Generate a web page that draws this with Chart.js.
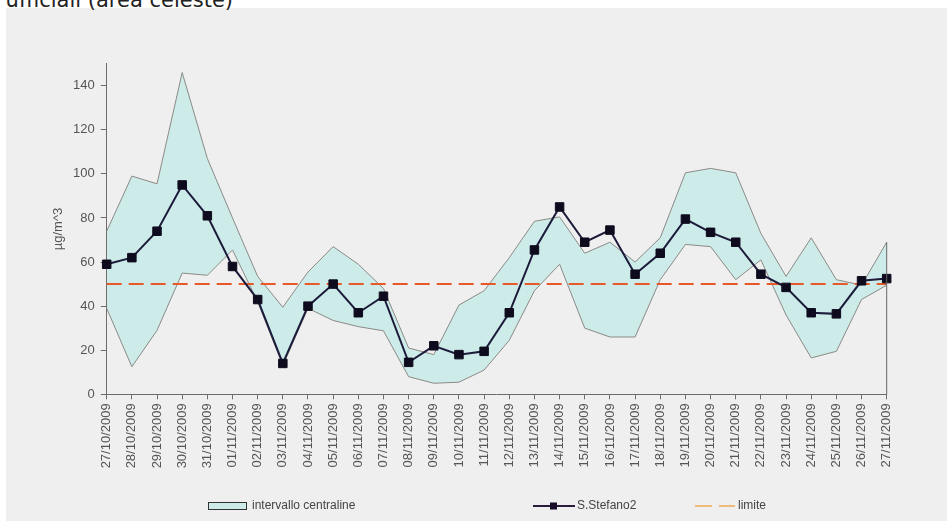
<!DOCTYPE html>
<html>
<head>
<meta charset="utf-8">
<script src="https://cdn.jsdelivr.net/npm/chart.js@4/dist/chart.umd.min.js"></script>
<style>
  html, body { margin:0; padding:0; background:#ffffff; width:947px; height:521px; overflow:hidden; }
  #panel { position:absolute; left:6px; top:8px; width:941px; height:513px; background:#efefef; }
  #wrap { position:absolute; left:0; top:0; width:947px; height:521px; }
  #topText { position:absolute; left:-300px; width:533px; top:-10px; text-align:right; font-family:"DejaVu Sans", sans-serif; font-size:21px; line-height:20px; color:#222; white-space:nowrap; }
</style>
</head>
<body>
<div id="panel"></div>
<div id="topText">ufficiali (area celeste)</div>
<div id="wrap"><canvas id="c" width="947" height="521"></canvas></div>
<script>
const categories = ["27/10/2009","28/10/2009","29/10/2009","30/10/2009","31/10/2009","01/11/2009","02/11/2009","03/11/2009","04/11/2009","05/11/2009","06/11/2009","07/11/2009","08/11/2009","09/11/2009","10/11/2009","11/11/2009","12/11/2009","13/11/2009","14/11/2009","15/11/2009","16/11/2009","17/11/2009","18/11/2009","19/11/2009","20/11/2009","21/11/2009","22/11/2009","23/11/2009","24/11/2009","25/11/2009","26/11/2009","27/11/2009"];
const stefano2 = [59, 62, 74, 95, 81, 58, 43, 14, 40, 50, 37, 44.5, 14.5, 22, 18, 19.5, 37, 65.5, 85, 69, 74.5, 54.5, 64, 79.5, 73.5, 69, 54.5, 48.5, 37, 36.5, 51.5, 52.5];
const intervalUpper = [74, 99, 95.5, 146, 107, 80, 53.5, 39.5, 55.5, 67, 59, 48, 21, 18, 40.5, 47, 62, 78.5, 80.5, 64, 69, 60, 71, 100.5, 102.5, 100.5, 73, 53.5, 71, 52, 49.5, 69];
const intervalLower = [39, 12.5, 29, 55, 54, 65.5, 42, 13, 39, 33.5, 30.7, 28.8, 8, 5, 5.5, 11, 24.5, 47, 59, 30, 26, 26, 52, 68, 67, 52, 61, 36, 16.5, 19.5, 43, 49.5];
const limitValue = [50, 50, 50, 50, 50, 50, 50, 50, 50, 50, 50, 50, 50, 50, 50, 50, 50, 50, 50, 50, 50, 50, 50, 50, 50, 50, 50, 50, 50, 50, 50, 50];
const yTicks = [0, 20, 40, 60, 80, 100, 120, 140];
const legendLabels = ["intervallo centraline", "S.Stefano2", "limite"];
const yTitle = "µg/m^3";

const bandFill = "#cdebe8";
const bandBorder = "#8a8a86";
const lineColor = "#1d1b3c";
const limitColor = "#e8592a";
const axisColor = "#6f6b68";
const textColor = "#555";

const closingLine = {
  id: "closingLine",
  afterDatasetsDraw(chart) {
    const xs = chart.scales.x, ys = chart.scales.y, ctx = chart.ctx;
    const i = categories.length - 1;
    ctx.save();
    ctx.strokeStyle = "#666";
    ctx.lineWidth = 1;
    ctx.beginPath();
    ctx.moveTo(xs.getPixelForValue(i), ys.getPixelForValue(intervalUpper[i]));
    ctx.lineTo(xs.getPixelForValue(i), ys.getPixelForValue(0));
    ctx.stroke();
    ctx.restore();
  }
};

const customLegend = {
  id: "customLegend",
  afterDraw(chart) {
    const ctx = chart.ctx;
    const y = 506;
    ctx.save();
    ctx.font = "12px 'Liberation Sans', Arial, sans-serif";
    ctx.textBaseline = "middle";
    ctx.fillStyle = bandFill;
    ctx.fillRect(208.5, 502.5, 38, 7);
    ctx.strokeStyle = "#333";
    ctx.lineWidth = 1;
    ctx.strokeRect(208.5, 502.5, 38, 7);
    ctx.fillStyle = "#444";
    ctx.fillText(legendLabels[0], 252, y);
    ctx.strokeStyle = "#2a1d3c";
    ctx.lineWidth = 2;
    ctx.beginPath(); ctx.moveTo(533, y); ctx.lineTo(575, y); ctx.stroke();
    ctx.fillStyle = "#1a0d2a";
    ctx.fillRect(550, y - 3.5, 7, 7);
    ctx.fillStyle = "#444";
    ctx.fillText(legendLabels[1], 577, y);
    ctx.strokeStyle = "#f0aa55";
    ctx.lineWidth = 1.5;
    ctx.beginPath(); ctx.moveTo(695, y); ctx.lineTo(712, y); ctx.moveTo(719, y); ctx.lineTo(735, y); ctx.stroke();
    ctx.fillStyle = "#444";
    ctx.fillText(legendLabels[2], 738, y);
    ctx.restore();
  }
};

new Chart(document.getElementById("c"), {
  type: "line",
  data: {
    labels: categories,
    datasets: [
      {
        label: legendLabels[1], data: stefano2, borderColor: lineColor, borderWidth: 2,
        pointStyle: "rect", pointRadius: 6, pointBackgroundColor: "#0e0b1e", pointBorderColor: "#0e0b1e",
        pointBorderWidth: 1, fill: false, tension: 0
      },
      {
        label: legendLabels[2], data: limitValue, borderColor: limitColor, borderWidth: 2,
        borderDash: [15, 7], pointRadius: 0, fill: false, tension: 0
      },
      {
        label: "lower", data: intervalLower, borderColor: bandBorder, borderWidth: 1,
        pointRadius: 0, fill: false, tension: 0
      },
      {
        label: legendLabels[0], data: intervalUpper, borderColor: bandBorder, borderWidth: 1,
        backgroundColor: bandFill, pointRadius: 0, fill: "-1", tension: 0
      }
    ]
  },
  options: {
    responsive: false,
    animation: false,
    events: [],
    layout: { padding: { left: 0, right: 60.3, top: 63.7, bottom: 0 } },
    plugins: { legend: { display: false }, tooltip: { enabled: false }, title: { display: false } },
    scales: {
      x: {
        offset: false,
        grid: { display: true, drawOnChartArea: false, drawTicks: true, tickLength: 5, color: axisColor },
        border: { display: true, color: axisColor, width: 1 },
        ticks: { autoSkip: false, maxRotation: 90, minRotation: 90, padding: 4, color: textColor,
                 font: { family: "'Liberation Sans', Arial, sans-serif", size: 13 } },
        afterFit(scale) { scale.height = 521 - 394.3; }
      },
      y: {
        min: 0, max: 150,
        afterBuildTicks(scale) { scale.ticks = yTicks.map(v => ({ value: v })); },
        grid: { display: true, drawOnChartArea: false, drawTicks: true, tickLength: 6, color: axisColor },
        border: { display: true, color: axisColor, width: 1 },
        ticks: { padding: 6, color: textColor, font: { family: "'Liberation Sans', Arial, sans-serif", size: 13 } },
        title: { display: true, text: yTitle, color: textColor, padding: { top: 51, bottom: 0 },
                 font: { family: "'Liberation Sans', Arial, sans-serif", size: 13 } },
        afterFit(scale) { scale.width = 106.7; }
      }
    }
  },
  plugins: [closingLine, customLegend]
});
</script>
</body>
</html>
